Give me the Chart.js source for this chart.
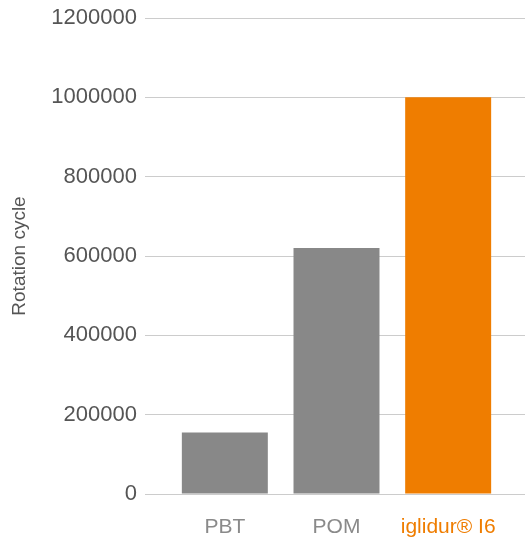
<!DOCTYPE html>
<html>
<head>
<meta charset="utf-8">
<script src="https://cdn.jsdelivr.net/npm/chart.js@4"></script>
<style>
html,body{margin:0;padding:0;background:#fff;}
#wrap{width:525px;height:543px;position:relative;}
</style>
</head>
<body>
<div id="wrap"><canvas id="c" width="525" height="543"></canvas></div>
<script>
const categories = ["PBT", "POM", "iglidur® I6"];
const rotationCycles = [155000, 620000, 1000000];
const barColors = ["#888888", "#888888", "#ef7d00"];
const labelColors = ["#8a8a8a", "#8a8a8a", "#ef7d00"];
const yTicks = [0, 200000, 400000, 600000, 800000, 1000000, 1200000];

const ctx = document.getElementById('c');
new Chart(ctx, {
  type: 'bar',
  data: {
    labels: categories,
    datasets: [{
      data: rotationCycles,
      backgroundColor: barColors,
      borderWidth: 0,
      barPercentage: 0.77,
      categoryPercentage: 1
    }]
  },
  options: {
    responsive: false,
    animation: false,
    devicePixelRatio: 1,
    layout: { padding: { top: 18, left: 0, right: 0, bottom: 0 } },
    plugins: { legend: { display: false }, tooltip: { enabled: false } },
    scales: {
      x: {
        grid: { display: false, drawTicks: false },
        border: { display: false },
        ticks: {
          padding: 21,
          color: (c) => labelColors[c.index],
          font: { family: "'Liberation Sans', Arial, sans-serif", size: 21 }
        },
        afterFit: (s) => { s.height = 49; }
      },
      y: {
        position: 'left',
        min: 0,
        max: 1200000,
        afterBuildTicks: (s) => { s.ticks = yTicks.map(v => ({ value: v })); },
        grid: { color: '#cccccc', lineWidth: 1, tickLength: 24, drawTicks: true },
        border: { display: false },
        ticks: {
          padding: 8,
          color: '#555555',
          font: { family: "'Liberation Sans', Arial, sans-serif", size: 22 },
          callback: (v) => String(v)
        },
        title: {
          display: true,
          text: 'Rotation cycle',
          color: '#555555',
          padding: { top: 8, bottom: 0 },
          font: { family: "'Liberation Sans', Arial, sans-serif", size: 19 }
        },
        afterFit: (s) => { s.width = 169; s.paddingTop = 0; s.paddingBottom = 0; }
      },
      y2: {
        position: 'right',
        min: 0,
        max: 1200000,
        afterBuildTicks: (s) => { s.ticks = yTicks.map(v => ({ value: v })); },
        grid: { color: '#cccccc', lineWidth: 1, tickLength: 21, drawTicks: true, drawOnChartArea: false },
        border: { display: false },
        ticks: { display: false },
        afterFit: (s) => { s.width = 21; s.paddingTop = 0; s.paddingBottom = 0; }
      }
    }
  }
});
</script>
</body>
</html>
